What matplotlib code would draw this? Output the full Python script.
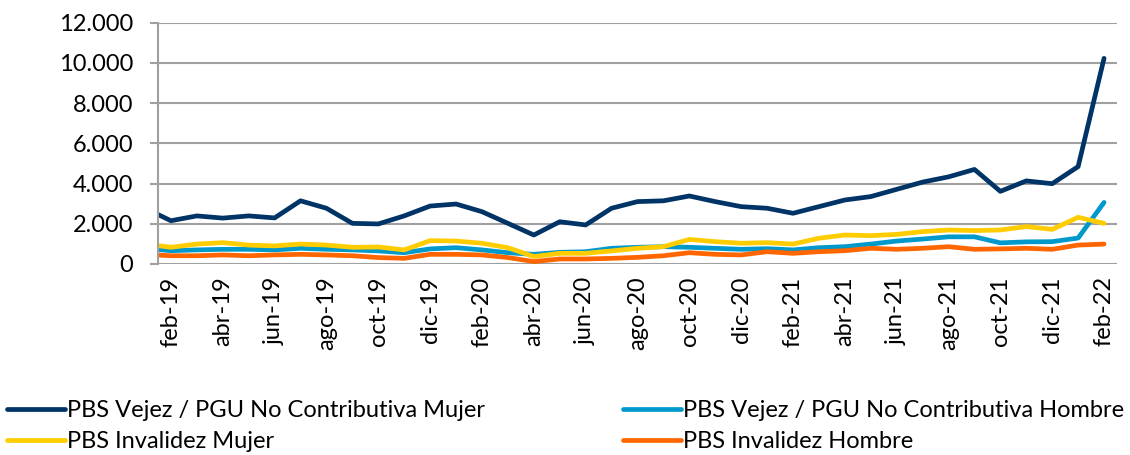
import matplotlib.pyplot as plt
from matplotlib.ticker import FuncFormatter

plt.rcParams['font.family'] = ['Lato', 'DejaVu Sans']

# months ene-19 .. feb-22 (first one sits half outside the plot area)
months = ['ene-19', 'feb-19', 'mar-19', 'abr-19', 'may-19', 'jun-19', 'jul-19', 'ago-19',
          'sep-19', 'oct-19', 'nov-19', 'dic-19', 'ene-20', 'feb-20', 'mar-20', 'abr-20',
          'may-20', 'jun-20', 'jul-20', 'ago-20', 'sep-20', 'oct-20', 'nov-20', 'dic-20',
          'ene-21', 'feb-21', 'mar-21', 'abr-21', 'may-21', 'jun-21', 'jul-21', 'ago-21',
          'sep-21', 'oct-21', 'nov-21', 'dic-21', 'ene-22', 'feb-22']

vejez_mujer = [2770, 2150, 2390, 2280, 2390, 2290, 3140, 2770, 2020, 1990, 2390, 2880, 2980,
               2600, 2020, 1440, 2100, 1940, 2770, 3100, 3140, 3380, 3100, 2850, 2770, 2520,
               2850, 3180, 3350, 3710, 4070, 4330, 4700, 3610, 4130, 3990, 4840, 10220]
vejez_hombre = [780, 660, 700, 730, 730, 700, 780, 730, 700, 650, 560, 750, 810,
                700, 560, 480, 580, 610, 780, 830, 860, 830, 780, 730, 760, 700,
                810, 860, 990, 1140, 1240, 1350, 1350, 1050, 1100, 1110, 1290, 3060]
invalidez_mujer = [990, 830, 990, 1060, 940, 900, 990, 940, 830, 845, 700, 1160, 1140,
                   1030, 810, 370, 530, 530, 650, 780, 860, 1220, 1110, 1030, 1060, 990,
                   1280, 1440, 1410, 1470, 1610, 1690, 1660, 1690, 1860, 1720, 2320, 2020]
invalidez_hombre = [480, 410, 410, 450, 410, 450, 480, 450, 410, 320, 280, 480, 480,
                    450, 320, 120, 250, 250, 280, 330, 410, 560, 480, 450, 610, 530,
                    610, 660, 780, 730, 780, 860, 730, 750, 780, 730, 940, 990]

labels = ['PBS Vejez / PGU No Contributiva Mujer', 'PBS Vejez / PGU No Contributiva Hombre',
          'PBS Invalidez Mujer', 'PBS Invalidez Hombre']
colors = ['#003366', '#0099CC', '#FFCC00', '#FF6600']

x = list(range(-1, len(months) - 1))

fig = plt.figure(figsize=(11.3, 4.55), dpi=100)
ax = fig.add_axes([0.1398, 0.4198, 0.8487, 0.5307])

lines = []
for vals, lab, col in zip([vejez_mujer, vejez_hombre, invalidez_mujer, invalidez_hombre],
                          labels, colors):
    ln, = ax.plot(x, vals, color=col, lw=3.4, label=lab, solid_capstyle='round')
    lines.append(ln)

ax.set_xlim(-0.5, len(months) - 1.5)
ax.set_ylim(0, 12000)
ax.set_yticks(range(0, 12001, 2000))
ax.yaxis.set_major_formatter(FuncFormatter(lambda v, p: f'{v:,.0f}'.replace(',', '.')))
ax.set_xticks(x[1::2])
ax.set_xticklabels(months[1::2], rotation=90)

ax.grid(axis='y', color='#A0A0A0', lw=1.5)
ax.set_axisbelow(True)
for s in ['top', 'right', 'bottom']:
    ax.spines[s].set_visible(False)
ax.spines['left'].set_color('#A0A0A0')
ax.spines['left'].set_linewidth(1.5)
ax.tick_params(axis='y', length=6, width=1.5, color='#A0A0A0', pad=12, labelsize=17)
ax.tick_params(axis='x', length=0, pad=9, labelsize=17)

fig.legend([lines[0], lines[2], lines[1], lines[3]],
           [labels[0], labels[2], labels[1], labels[3]],
           ncol=2, loc='upper left', bbox_to_anchor=(0.006, 0.12), frameon=False,
           fontsize=17, handlelength=2.45, handletextpad=0.1, columnspacing=5.85,
           labelspacing=0.4, borderpad=0.0, borderaxespad=0.0)

fig.savefig('out.png', dpi=100)
